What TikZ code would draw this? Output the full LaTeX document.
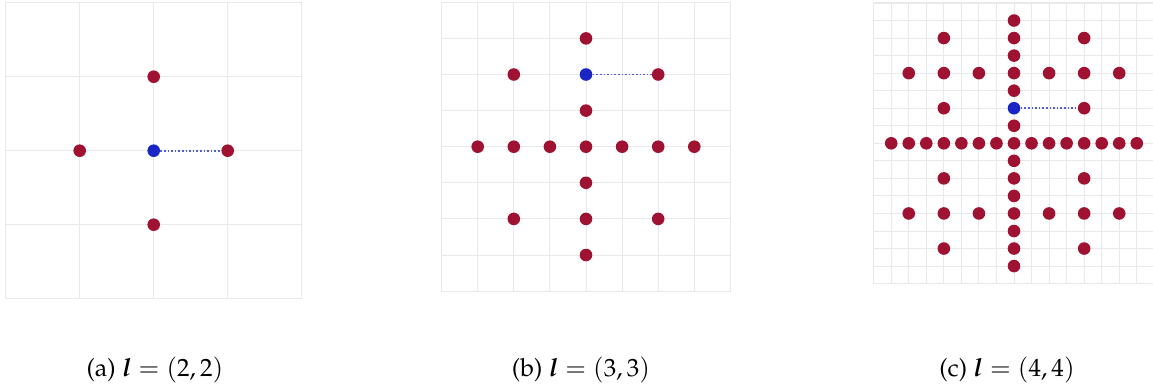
\documentclass[tikz,border=0pt]{standalone}
\usepackage[T1]{fontenc}
\usepackage{amsmath}
\usepackage{mathpazo}
\definecolor{dotred}{RGB}{160,18,50}
\definecolor{dotblue}{RGB}{26,38,196}
\definecolor{gridgray}{RGB}{233,233,233}
\tikzset{
  gridline/.style={draw=gridgray, line width=0.5pt},
  reddot/.style={circle, fill=dotred, inner sep=0pt, minimum size=6.3pt},
  bluedot/.style={circle, fill=dotblue, inner sep=0pt, minimum size=6.3pt},
  linkline/.style={dotblue!75, densely dotted, line width=0.8pt},
  caplabel/.style={anchor=base, font=\fontsize{12.5}{15}\selectfont}
}
\begin{document}
\begin{tikzpicture}[x=0.5pt, y=0.5pt]
  \useasboundingbox (0,0) rectangle (1153,387);

  % Panel (a): l = (2,2)
  \begin{scope}[shift={(153.7,236.3)}, x=37pt, y=37pt]
    \draw[gridline] (-2,-2) grid[step=1] (2,2);
    \draw[gridline] (-2,-2) rectangle (2,2);
    \foreach \x/\y in {-1/0, 0/1, 0/-1}
      \node[reddot] (a\x\y) at (\x,\y) {};
    \node[reddot] (ra) at (1,0) {};
    \node[bluedot] (qa) at (0,0) {};
    \draw[linkline] (qa) -- (ra);
  \end{scope}

  % Panel (b): l = (3,3)
  \begin{scope}[shift={(586,240.3)}, x=18.05pt, y=18.05pt]
    \draw[gridline] (-4,-4) grid[step=1] (4,4);
    \draw[gridline] (-4,-4) rectangle (4,4);
    \foreach \x in {-3,...,3}
      \node[reddot] (b\x0) at (\x,0) {};
    \foreach \y in {-3,-2,-1,1,3}
      \node[reddot] (b0\y) at (0,\y) {};
    \foreach \x/\y in {-2/2, -2/-2, 2/-2}
      \node[reddot] (b\x\y) at (\x,\y) {};
    \node[reddot] (rb) at (2,2) {};
    \node[bluedot] (qb) at (0,2) {};
    \draw[linkline] (qb) -- (rb);
  \end{scope}

  % Panel (c): l = (4,4)
  \begin{scope}[shift={(1014,243.7)}, x=8.77pt, y=8.77pt]
    \draw[gridline] (-8,-8) grid[step=1] (8,8);
    \draw[gridline] (-8,-8) rectangle (8,8);
    \foreach \x in {-7,...,7}
      \node[reddot] (c\x0) at (\x,0) {};
    \foreach \y in {-7,-6,-5,-4,-3,-2,-1,1,3,4,5,6,7}
      \node[reddot] (c0\y) at (0,\y) {};
    \foreach \x in {-6,-4,-2,2,4,6} {
      \node[reddot] (c\x4) at (\x,4) {};
      \node[reddot] (c\x-4) at (\x,-4) {};
    }
    \foreach \x/\y in {-4/6, 4/6, -4/2, -4/-2, 4/-2, -4/-6, 4/-6}
      \node[reddot] (c\x\y) at (\x,\y) {};
    \node[reddot] (rc) at (4,2) {};
    \node[bluedot] (qc) at (0,2) {};
    \draw[linkline] (qc) -- (rc);
  \end{scope}

  % Captions
  \node[caplabel] (capa) at (155,11) {(a) $\boldsymbol{l} = (2,2)$};
  \node[caplabel] (capb) at (581,11) {(b) $\boldsymbol{l} = (3,3)$};
  \node[caplabel] (capc) at (1007,11) {(c) $\boldsymbol{l} = (4,4)$};
\end{tikzpicture}
\end{document}
